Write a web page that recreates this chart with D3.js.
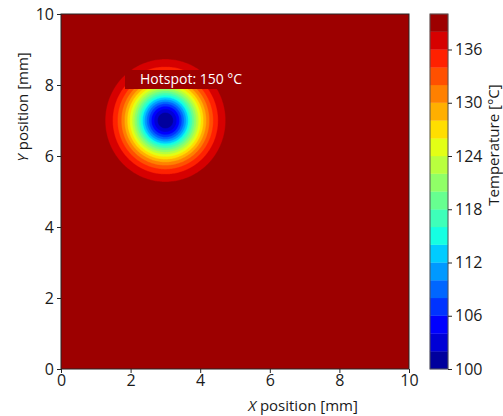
<!DOCTYPE html>
<html><head><meta charset="utf-8">
<script src="https://cdn.jsdelivr.net/npm/d3@7"></script>
<style>
body{margin:0;background:#fff}
svg{display:block}
text{font-family:"Open Sans",sans-serif;fill:#1a1a1a}
</style>
</head><body>
<svg id="c" width="503" height="416"></svg>
<script>
// ---- data ----
const xTicks = [0, 2, 4, 6, 8, 10];
const yTicks = [0, 2, 4, 6, 8, 10];
const levels = [100,102,104,106,108,110,112,114,116,118,120,122,124,126,128,130,132,134,136,138,140];
const cbTicks = [100, 106, 112, 118, 124, 130, 136];
const bandColors = [
  "rgb(0,0,157)","rgb(0,0,214)","rgb(0,0,255)","rgb(0,51,255)","rgb(0,102,255)",
  "rgb(0,153,255)","rgb(0,204,255)","rgb(21,255,226)","rgb(62,255,185)","rgb(103,255,144)",
  "rgb(144,255,103)","rgb(185,255,62)","rgb(226,255,21)","rgb(255,222,0)","rgb(255,175,0)",
  "rgb(255,128,0)","rgb(255,80,0)","rgb(255,33,0)","rgb(214,0,0)","rgb(157,0,0)"
];
const spotCenter = [3, 7];      // mm
const ambientTemp = [140];      // °C far from the spot
const spotDepth = [40];         // °C drop at the centre
const spotWidth = [1.0];        // mm^2  (T = ambient - depth*exp(-r^2/width))
const labelText = "Hotspot: 150 °C";
const xLabel = ["X", " position [mm]"];
const yLabel = ["Y", " position [mm]"];
const cbLabel = "Temperature [°C]";

// ---- layout ----
const svg = d3.select("#c");
const P = {l: 61, r: 409, t: 14, b: 369};
const x = d3.scaleLinear().domain([0, 10]).range([P.l, P.r]);
const y = d3.scaleLinear().domain([0, 10]).range([P.b, P.t]);

// field grid
const nx = 300, ny = 300;
const vals = new Float64Array(nx * ny);
for (let j = 0; j < ny; j++) {
  const yy = (j + 0.5) / ny * 10;
  for (let i = 0; i < nx; i++) {
    const xx = (i + 0.5) / nx * 10;
    const r2 = (xx - spotCenter[0]) ** 2 + (yy - spotCenter[1]) ** 2;
    vals[j * nx + i] = ambientTemp[0] - spotDepth[0] * Math.exp(-r2 / spotWidth[0]);
  }
}
const contours = d3.contours().size([nx, ny]).thresholds(levels.slice(0, -1))(vals);
const tf = d3.geoTransform({
  point(px, py) { this.stream.point(x(px / nx * 10), y(py / ny * 10)); }
});
const path = d3.geoPath(tf);

svg.append("clipPath").attr("id", "clip").append("rect")
  .attr("x", P.l).attr("y", P.t).attr("width", P.r - P.l).attr("height", P.b - P.t);

const g = svg.append("g").attr("clip-path", "url(#clip)");
g.append("rect").attr("x", P.l).attr("y", P.t).attr("width", P.r - P.l).attr("height", P.b - P.t)
  .attr("fill", bandColors[0]);
g.selectAll("path.c").data(contours).join("path")
  .attr("class", "c")
  .attr("d", path)
  .attr("fill", (d, i) => bandColors[i])
  .attr("stroke", (d, i) => bandColors[i])
  .attr("stroke-width", 0.4);

// hotspot label
g.append("rect").attr("x", 125).attr("y", 70).attr("width", 130).attr("height", 19)
  .attr("fill", bandColors[bandColors.length - 1]);
svg.append("text").attr("x", 140).attr("y", 84).attr("font-size", 14).style("fill", "#fff")
  .text(labelText);

// frame
svg.append("rect").attr("x", P.l).attr("y", P.t).attr("width", P.r - P.l).attr("height", P.b - P.t)
  .attr("fill", "none").attr("stroke", "#262626").attr("stroke-width", 1);

// axes
const ax = svg.append("g").attr("transform", `translate(0,${P.b})`)
  .call(d3.axisBottom(x).tickValues(xTicks).tickSize(4).tickPadding(2).tickFormat(d3.format("d")));
const ay = svg.append("g").attr("transform", `translate(${P.l},0)`)
  .call(d3.axisLeft(y).tickValues(yTicks).tickSize(4).tickPadding(3).tickFormat(d3.format("d")));
[ax, ay].forEach(a => {
  a.select(".domain").remove();
  a.selectAll("line").attr("stroke", "#262626");
  a.selectAll("text").attr("font-size", 16).attr("font-family", "Open Sans").style("fill", "#1a1a1a");
});

// axis labels
const xl = svg.append("text").attr("x", 303).attr("y", 411).attr("text-anchor", "middle").attr("font-size", 15);
xl.append("tspan").attr("font-style", "italic").text(xLabel[0]);
xl.append("tspan").text(xLabel[1]);
const yl = svg.append("text").attr("transform", "translate(28,107) rotate(-90)").attr("text-anchor", "middle").attr("font-size", 15);
yl.append("tspan").attr("font-style", "italic").text(yLabel[0]);
yl.append("tspan").text(yLabel[1]);

// colorbar
const cb = {x: 430, w: 18};
const cy = d3.scaleLinear().domain([levels[0], levels[levels.length - 1]]).range([P.b, P.t]);
svg.append("g").selectAll("rect").data(bandColors).join("rect")
  .attr("x", cb.x).attr("width", cb.w)
  .attr("y", (d, i) => cy(levels[i + 1]))
  .attr("height", (d, i) => cy(levels[i]) - cy(levels[i + 1]))
  .attr("fill", d => d).attr("stroke", d => d).attr("stroke-width", 0.3);
svg.append("rect").attr("x", cb.x).attr("y", P.t).attr("width", cb.w).attr("height", P.b - P.t)
  .attr("fill", "none").attr("stroke", "#555").attr("stroke-width", 1);
const ac = svg.append("g").attr("transform", `translate(${cb.x + cb.w},0)`)
  .call(d3.axisRight(cy).tickValues(cbTicks).tickSize(4).tickPadding(3).tickFormat(d3.format("d")));
ac.select(".domain").remove();
ac.selectAll("line").attr("stroke", "#262626");
ac.selectAll("text").attr("font-size", 16).attr("font-family", "Open Sans").style("fill", "#1a1a1a");
svg.append("text").attr("transform", "translate(499,145) rotate(-90)").attr("text-anchor", "middle")
  .attr("font-size", 15).text(cbLabel);
</script>
</body></html>
